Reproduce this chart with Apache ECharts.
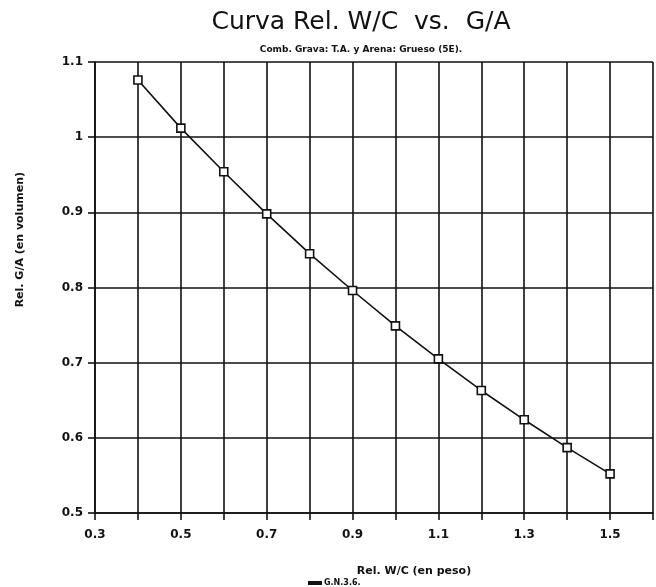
<!DOCTYPE html>
<html>
<head>
<meta charset="utf-8">
<script src="https://cdn.jsdelivr.net/npm/echarts@6/dist/echarts.min.js"></script>
<style>
  html, body { margin: 0; padding: 0; background: #fff; }
  #chart { width: 656px; height: 587px; }
</style>
</head>
<body>
<div id="chart"></div>
<script>
// Water/cement ratio (by weight) against gravel/sand ratio (by volume)
const wcRatio = [0.4, 0.5, 0.6, 0.7, 0.8, 0.9, 1.0, 1.1, 1.2, 1.3, 1.4, 1.5];
const gaRatio = [1.076, 1.012, 0.954, 0.898, 0.845, 0.796, 0.749, 0.705, 0.663, 0.624, 0.587, 0.552];
const xTickLabels = ['0.3', '0.5', '0.7', '0.9', '1.1', '1.3', '1.5'];
const yTickLabels = ['0.5', '0.6', '0.7', '0.8', '0.9', '1', '1.1'];
const seriesName = 'G.N.3.6.';
const yAxisTitle = 'Rel. G/A (en volumen)';

const ink = '#111';
const boldFont = '"DejaVu Sans", sans-serif';

const chart = echarts.init(document.getElementById('chart'), null, { renderer: 'canvas' });

chart.setOption({
  animation: false,
  backgroundColor: '#fff',
  title: [
    {
      text: 'Curva Rel. W/C  vs.  G/A',
      left: 356, top: 5, textAlign: 'center',
      textStyle: { fontFamily: '"DejaVu Sans", sans-serif', fontWeight: 'normal', fontSize: 25, color: ink }
    },
    {
      text: 'Comb. Grava: T.A. y Arena: Grueso (5E).',
      left: 356, top: 40, textAlign: 'center',
      textStyle: { fontFamily: boldFont, fontWeight: 'bold', fontSize: 9, color: ink }
    }
  ],
  legend: {
    data: [seriesName],
    left: 303, top: 574,
    itemWidth: 12, itemHeight: 2, itemGap: 4,
    icon: 'path://M0,0L12,0L12,2L0,2Z',
    textStyle: { fontFamily: boldFont, fontWeight: 'bold', fontSize: 8, color: ink, padding: [0, 0, 0, -2] }
  },
  graphic: [{
    type: 'text',
    left: 15, top: 172,
    rotation: Math.PI / 2,
    style: {
      text: yAxisTitle,
      fontFamily: boldFont, fontWeight: 'bold', fontSize: 11, fill: ink
    }
  }],
  grid: { left: 95, right: 2, top: 62, bottom: 74 },
  xAxis: {
    type: 'value',
    min: 0.3, max: 1.6, interval: 0.1,
    name: 'Rel. W/C (en peso)',
    nameLocation: 'middle', nameGap: 53,
    nameTextStyle: { fontFamily: boldFont, fontWeight: 'bold', fontSize: 11, color: ink, padding: [0, 0, 0, 80] },
    axisLine: { lineStyle: { color: ink, width: 1.6 } },
    axisTick: { length: 7, lineStyle: { color: ink, width: 1.6 } },
    axisLabel: {
      margin: 16,
      fontFamily: boldFont, fontWeight: 'bold', fontSize: 12, color: ink,
      formatter: function (v) {
        const i = Math.round((v - 0.3) * 10);
        return i % 2 === 0 ? xTickLabels[i / 2] : '';
      }
    },
    splitLine: { show: true, lineStyle: { color: ink, width: 1.6 } }
  },
  yAxis: {
    type: 'value',
    min: 0.5, max: 1.1, interval: 0.1,
    axisLine: { show: true, lineStyle: { color: ink, width: 1.6 } },
    axisTick: { show: true, length: 7, lineStyle: { color: ink, width: 1.6 } },
    axisLabel: {
      margin: 12,
      fontFamily: boldFont, fontWeight: 'bold', fontSize: 12, color: ink,
      formatter: function (v) {
        return yTickLabels[Math.round((v - 0.5) * 10)];
      }
    },
    splitLine: { show: true, lineStyle: { color: ink, width: 1.6 } }
  },
  series: [{
    name: seriesName,
    type: 'line',
    data: wcRatio.map((x, i) => [x, gaRatio[i]]),
    symbol: 'rect',
    symbolSize: 8,
    lineStyle: { color: ink, width: 1.6 },
    itemStyle: { color: '#fff', borderColor: ink, borderWidth: 1.6 }
  }]
});
</script>
</body>
</html>
